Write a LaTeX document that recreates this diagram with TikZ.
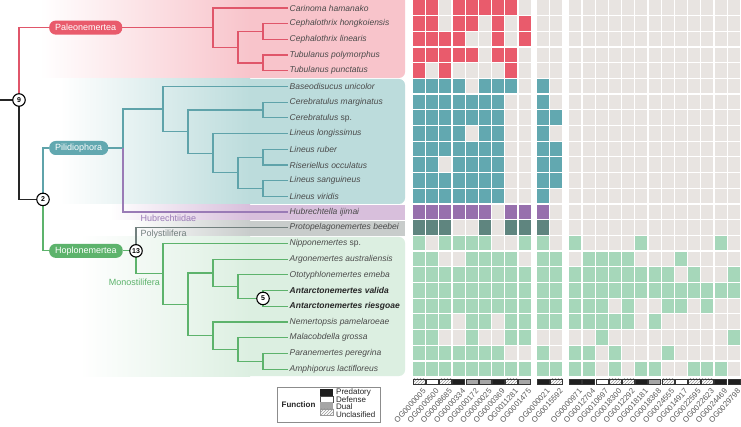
\documentclass[tikz,border=0pt]{standalone}
\usepackage{fontspec}
\setmainfont{Liberation Sans}
\usetikzlibrary{patterns}
\definecolor{cR}{HTML}{E95B6C}
\definecolor{cT}{HTML}{62A8B0}
\definecolor{cP}{HTML}{9770AD}
\definecolor{cG}{HTML}{5F857F}
\definecolor{cH}{HTML}{A6D7BA}
\definecolor{cE}{HTML}{E8E4E1}
\definecolor{bR}{HTML}{F8C4CB}
\definecolor{bT}{HTML}{BCDCDC}
\definecolor{bP}{HTML}{D8BFDC}
\definecolor{bG}{HTML}{C8CCCB}
\definecolor{bH}{HTML}{DCEFE1}
\definecolor{lR}{HTML}{E0566A}
\definecolor{lT}{HTML}{5FA3AA}
\definecolor{lP}{HTML}{9A7BB6}
\definecolor{lG}{HTML}{72807E}
\definecolor{lH}{HTML}{5DB36C}
\definecolor{txt}{HTML}{4A4A4A}
\tikzset{
  br/.style={line width=1.2pt},
  leaf/.style={anchor=west, inner sep=1.5pt, text=txt, font=\fontsize{8.5}{10}\selectfont\itshape},
  leafb/.style={leaf, text=black!85, font=\fontsize{8.5}{10}\selectfont\bfseries\itshape},
  pill/.style={anchor=west, rounded corners=6.5pt, minimum height=14pt, inner xsep=6pt, inner ysep=0pt, text=white, font=\fontsize{9}{10}\selectfont},
  nodec/.style={circle, draw=black, line width=1.1pt, fill=white, inner sep=0pt, minimum size=12.5pt, font=\fontsize{7}{8}\selectfont\bfseries},
  clade/.style={inner sep=0.5pt, font=\fontsize{9}{10}\selectfont},
  barB/.style={fill=black!88},
  barW/.style={fill=white},
  barG/.style={fill=gray!70},
  barH/.style={pattern=north east lines, pattern color=gray!80},
  oglab/.style={rotate=48, anchor=east, inner sep=0.3pt, text=black!65, font=\fontsize{7.8}{8}\selectfont},
  legtxt/.style={anchor=west, inner sep=0.5pt, font=\fontsize{8}{9}\selectfont, text=black!85},
}
\begin{document}
\begin{tikzpicture}[x=1pt,y=-1pt]
\useasboundingbox (0,0) rectangle (741,427);
\fill[white] (0,0) rectangle (741,427);
% ---------- background bands
\fill[bR, rounded corners=6] (240,-10) rectangle (405,78);
\shade[left color=white, right color=bR] (40,-10) rectangle (250,78);
\fill[bT, rounded corners=6] (240,79) rectangle (405,204);
\shade[left color=white, right color=bT] (60,79) rectangle (250,204);
\fill[bP] (240,205) rectangle (405,220);
\shade[left color=white, right color=bP] (110,205) rectangle (250,220);
\fill[bG] (240,221) rectangle (405,236);
\shade[left color=white, right color=bG] (130,221) rectangle (250,236);
\fill[bH, rounded corners=6] (240,237) rectangle (405,376);
\shade[left color=white, right color=bH] (80,237) rectangle (250,376);
% ---------- matrix
\foreach \r/\cc/\vals in {
 0/cR/{1,1,0,1,1,1,1,1,0,0,0,0,0,0,0,0,0,0,0,0,0,0,0,0},
 1/cR/{1,1,0,1,1,0,1,0,1,0,0,0,0,0,0,0,0,0,0,0,0,0,0,0},
 2/cR/{1,1,1,1,0,0,1,0,1,0,0,0,0,0,0,0,0,0,0,0,0,0,0,0},
 3/cR/{1,1,1,1,1,0,1,1,0,0,0,0,0,0,0,0,0,0,0,0,0,0,0,0},
 4/cR/{1,0,1,0,0,0,0,1,0,0,0,0,0,0,0,0,0,0,0,0,0,0,0,0},
 5/cT/{1,1,1,1,0,1,1,1,0,1,0,0,0,0,0,0,0,0,0,0,0,0,0,0},
 6/cT/{1,1,1,1,1,1,1,0,0,1,0,0,0,0,0,0,0,0,0,0,0,0,0,0},
 7/cT/{1,1,1,1,1,1,1,0,0,1,1,0,0,0,0,0,0,0,0,0,0,0,0,0},
 8/cT/{1,1,1,1,0,1,1,0,0,1,0,0,0,0,0,0,0,0,0,0,0,0,0,0},
 9/cT/{1,1,1,1,1,1,1,0,0,1,1,0,0,0,0,0,0,0,0,0,0,0,0,0},
 10/cT/{1,1,0,1,1,1,1,0,0,1,1,0,0,0,0,0,0,0,0,0,0,0,0,0},
 11/cT/{1,1,1,1,1,1,1,0,0,1,1,0,0,0,0,0,0,0,0,0,0,0,0,0},
 12/cT/{1,1,1,1,1,1,1,0,0,1,0,0,0,0,0,0,0,0,0,0,0,0,0,0},
 13/cP/{1,1,1,1,1,1,0,1,1,1,0,0,0,0,0,0,0,0,0,0,0,0,0,0},
 14/cG/{1,1,1,0,0,1,0,1,1,1,0,0,0,0,0,0,0,0,0,0,0,0,0,0},
 15/cH/{1,0,1,1,1,1,0,0,1,1,0,1,0,0,0,0,1,0,0,0,0,0,1,0},
 16/cH/{1,1,0,0,1,1,1,1,0,1,1,0,1,1,1,1,0,0,0,1,0,0,0,0},
 17/cH/{1,1,1,1,1,1,1,1,1,1,1,1,1,1,1,1,1,1,1,0,1,0,0,1},
 18/cH/{1,1,1,1,1,1,1,1,1,1,1,1,1,1,1,1,1,1,1,1,1,1,1,1},
 19/cH/{1,1,1,1,1,1,1,1,1,1,1,1,1,1,0,1,0,0,1,1,0,1,0,0},
 20/cH/{1,1,1,0,1,1,0,1,1,1,1,1,1,1,1,1,0,1,0,0,0,0,0,0},
 21/cH/{1,1,0,0,1,0,0,1,1,0,0,0,0,1,0,0,0,0,0,0,0,0,0,1},
 22/cH/{1,1,1,1,1,1,1,0,0,1,0,1,1,0,1,0,0,0,1,0,0,0,0,0},
 23/cH/{1,1,1,1,1,1,1,1,1,1,1,1,1,0,1,0,1,1,0,0,1,1,1,0}}{
  \foreach \v [count=\c from 0] in \vals {
    \pgfmathsetmacro\xl{\c<9 ? 413+13.2*\c : (\c<11 ? 537+13.2*(\c-9) : 569.3+13.2*(\c-11))}
    \pgfmathsetmacro\yt{0.5+15.7*\r}
    \ifnum\v=1 \fill[\cc] (\xl,\yt) rectangle ++(12,14.5);
    \else \fill[cE] (\xl,\yt) rectangle ++(12,14.5); \fi
  }
}
% ---------- function bars and labels
\foreach \t/\lab [count=\c from 0] in {H/OG0000005,W/OG0000500,H/OG0008685,B/OG0000334,G/OG0000172,G/OG0000025,B/OG0000369,H/OG0011281,G/OG0001475,
  B/OG0000021,H/OG0015592,
  B/OG0000971,B/OG0012704,W/OG0010697,H/OG0018300,H/OG0012292,B/OG0018181,G/OG0018368,H/OG0024555,W/OG0014917,H/OG0022595,H/OG0022623,B/OG0024469,B/OG0029798}{
  \pgfmathsetmacro\xl{\c<9 ? 413+13.2*\c : (\c<11 ? 537+13.2*(\c-9) : 569.3+13.2*(\c-11))}
  \draw[bar\t, draw=black!80, line width=0.4pt] (\xl,378.8) rectangle ++(12,5);
  \node[oglab] (og\c) at (\xl+11.5,389.5) {\lab};
}
% ---------- leaves
\foreach \r/\nm in {0/Carinoma hamanako,1/Cephalothrix hongkoiensis,2/Cephalothrix linearis,3/Tubulanus polymorphus,4/Tubulanus punctatus,
  5/Baseodisucus unicolor,6/Cerebratulus marginatus,7/{Cerebratulus \upshape sp.},8/Lineus longissimus,9/Lineus ruber,10/Riseriellus occulatus,
  11/Lineus sanguineus,12/Lineus viridis,13/Hubrechtella ijimai,14/Protopelagonemertes beebei,15/{Nipponemertes \upshape sp.},
  16/Argonemertes australiensis,17/Ototyphlonemertes emeba,20/Nemertopsis pamelaroeae,21/Malacobdella grossa,22/Paranemertes peregrina,23/Amphiporus lactifloreus}{
  \node[leaf] (l\r) at (288,8+15.7*\r) {\nm};
}
\node[leafb] (l18) at (288,8+15.7*18) {Antarctonemertes valida};
\node[leafb] (l19) at (288,8+15.7*19) {Antarctonemertes riesgoae};
% ---------- internal coordinates
\coordinate (rootL) at (0,100);
\coordinate (n9c) at (19,100);
\coordinate (n2c) at (43,199.4);
\coordinate (P0) at (213,27.6);
\coordinate (P1) at (238,47.25);
\coordinate (P2) at (263,31.55);
\coordinate (P3) at (263,62.95);
\coordinate (PT) at (123,148);
\coordinate (crown) at (163,109.05);
\coordinate (CL) at (188,131.6);
\coordinate (Cer) at (263,110.05);
\coordinate (Lin) at (213,153.2);
\coordinate (LL) at (238,172.85);
\coordinate (Lr) at (263,157.15);
\coordinate (Ls) at (263,188.55);
\coordinate (n13c) at (136,250.85);
\coordinate (Mono) at (163,273.9);
\coordinate (M2) at (188,304.35);
\coordinate (Arg) at (213,272.95);
\coordinate (Oto) at (238,286.7);
\coordinate (n5c) at (263,298.45);
\coordinate (Nem) at (213,335.75);
\coordinate (Mal) at (238,349.5);
\coordinate (Pa) at (263,361.25);
% pills
\node[pill, fill=cR] (pillP) at (49,27.6) {Paleonemertea};
\node[pill, fill=cT] (pillT) at (49,148) {Pilidiophora};
\node[pill, fill=lH] (pillH) at (49,250.85) {Hoplonemertea};
% ---------- branches
\draw[br, black!85] (rootL) -- (n9c);
\draw[br, black!85] (n9c) |- (n2c);
\draw[br, lR] (n9c) |- (pillP.west);
\draw[br, lR] (pillP.east) -- (pillP.east -| P0);
\draw[br, lR] (P0) |- (l0.west);
\draw[br, lR] (P0) |- (P1);
\draw[br, lR] (P1) |- (P2);
\draw[br, lR] (P1) |- (P3);
\draw[br, lR] (P2) |- (l1.west);
\draw[br, lR] (P2) |- (l2.west);
\draw[br, lR] (P3) |- (l3.west);
\draw[br, lR] (P3) |- (l4.west);
% Pilidiophora
\draw[br, lT] (n2c) |- (pillT.west);
\draw[br, lT] (pillT.east) -- (PT);
\draw[br, lT] (PT) |- (crown);
\draw[br, lP] (PT) |- (l13.west);
\draw[br, lT] (crown) |- (l5.west);
\draw[br, lT] (crown) |- (CL);
\draw[br, lT] (CL) |- (Cer);
\draw[br, lT] (Cer) |- (l6.west);
\draw[br, lT] (Cer) |- (l7.west);
\draw[br, lT] (CL) |- (Lin);
\draw[br, lT] (Lin) |- (l8.west);
\draw[br, lT] (Lin) |- (LL);
\draw[br, lT] (LL) |- (Lr);
\draw[br, lT] (LL) |- (Ls);
\draw[br, lT] (Lr) |- (l9.west);
\draw[br, lT] (Lr) |- (l10.west);
\draw[br, lT] (Ls) |- (l11.west);
\draw[br, lT] (Ls) |- (l12.west);
% Hoplonemertea
\draw[br, lH] (n2c) |- (pillH.west);
\draw[br, lH] (pillH.east) -- (n13c);
\draw[br, lG] (n13c) |- (l14.west);
\draw[br, lH] (n13c) |- (Mono);
\draw[br, lH] (Mono) |- (l15.west);
\draw[br, lH] (Mono) |- (M2);
\draw[br, lH] (M2) |- (Arg);
\draw[br, lH] (Arg) |- (l16.west);
\draw[br, lH] (Arg) |- (Oto);
\draw[br, lH] (Oto) |- (l17.west);
\draw[br, lH] (Oto) |- (n5c);
\draw[br, lH] (n5c) |- (l18.west);
\draw[br, lH] (n5c) |- (l19.west);
\draw[br, lH] (M2) |- (Nem);
\draw[br, lH] (Nem) |- (l20.west);
\draw[br, lH] (Nem) |- (Mal);
\draw[br, lH] (Mal) |- (l21.west);
\draw[br, lH] (Mal) |- (Pa);
\draw[br, lH] (Pa) |- (l22.west);
\draw[br, lH] (Pa) |- (l23.west);
% clade labels
\node[clade, anchor=north west, text=lP] (hubl) at (140,213.8) {Hubrechtiidae};
\node[clade, anchor=north west, text=lG] (polyl) at (140,229.6) {Polystilifera};
\node[clade, anchor=north east, text=lH] (monol) at (160.5,277.8) {Monostilifera};
% node circles
\node[nodec] (n9) at (n9c) {9};
\node[nodec] (n2) at (n2c) {2};
\node[nodec] (n13) at (n13c) {13};
\node[nodec] (n5) at (n5c) {5};
% ---------- legend
\node[draw=black!45, line width=0.5pt, minimum width=103pt, minimum height=35pt, anchor=north west, inner sep=0pt] (leg) at (277,387) {};
\node[font=\fontsize{8}{10}\selectfont\bfseries, text=black!85] (legt) at (298.5,405) {Function};
\fill[black!88] (320,389.3) rectangle (333,395.6);
\draw[black!70, line width=0.4pt, fill=white] (320,395.8) rectangle (333,402.1);
\fill[gray!70] (320,402.3) rectangle (333,408.6);
\draw[black!40, line width=0.3pt, pattern=north east lines, pattern color=gray!80] (320,408.8) rectangle (333,415.1);
\node[legtxt] (lg1) at (335.5,392.5) {Predatory};
\node[legtxt] (lg2) at (335.5,399.8) {Defense};
\node[legtxt] (lg3) at (335.5,407) {Dual};
\node[legtxt] (lg4) at (335.5,414.3) {Unclasified};
\end{tikzpicture}
\end{document}
